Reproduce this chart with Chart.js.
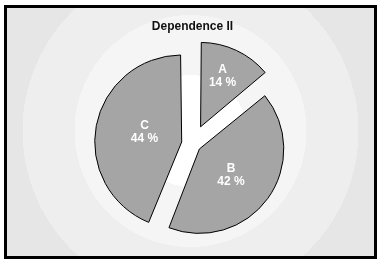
<!DOCTYPE html>
<html>
<head>
<meta charset="utf-8">
<script src="https://cdn.jsdelivr.net/npm/chart.js@4.4.1/dist/chart.umd.min.js"></script>
<style>
  html, body { margin: 0; padding: 0; background: #fff; }
  #wrap { position: relative; width: 379px; height: 262px; }
  #frame {
    position: absolute; left: 4px; top: 5px; width: 367px; height: 248px;
    border: 3px solid #000;
    background: radial-gradient(circle at 183.5px 123px, #fff 0 56px, #f5f5f5 56px 116px, #eeeeee 116px 168px, #e6e6e6 168px);
  }
  canvas { position: absolute; left: 0; top: 0; }
</style>
</head>
<body>
<div id="wrap">
  <div id="frame"></div>
  <canvas id="pie" width="379" height="262"></canvas>
</div>
<script>
const $ = id => document.getElementById(id);

const labels = ['A', 'B', 'C'];
const shares = [14, 42, 44];

// how far each slice is pulled out (chart.js uses a quarter of this)
const pullOut = [76, 34, 44];
const labelNudge = [-4, 3, -3];
const sliceGrey = '#a5a5a5';

const sliceLabels = {
  id: 'sliceLabels',
  afterDatasetsDraw(chart) {
    const ctx = chart.ctx;
    const meta = chart.getDatasetMeta(0);
    ctx.save();
    ctx.font = 'bold 12px "Liberation Sans", Arial, sans-serif';
    ctx.fillStyle = '#fff';
    ctx.textAlign = 'center';
    ctx.textBaseline = 'middle';
    meta.data.forEach((arc, i) => {
      const { x, y, startAngle, endAngle, outerRadius } = arc.getProps(['x', 'y', 'startAngle', 'endAngle', 'outerRadius'], true);
      const mid = (startAngle + endAngle) / 2;
      const theta = endAngle - startAngle;
      const shift = (arc.options.offset || 0) / 4;
      // centroid of the sector
      const d = shift + 4 * outerRadius * Math.sin(theta / 2) / (3 * theta);
      const px = x + Math.cos(mid) * d;
      const py = y + Math.sin(mid) * d + labelNudge[i];
      ctx.fillText(labels[i], px, py - 6.5);
      ctx.fillText(`${shares[i]} %`, px, py + 6.5);
    });
    ctx.restore();
  }
};

new Chart($('pie').getContext('2d'), {
  type: 'pie',
  data: {
    labels,
    datasets: [{
      data: shares,
      backgroundColor: sliceGrey,
      borderColor: '#000',
      borderWidth: 1,
      offset: pullOut,
      radius: 80
    }]
  },
  options: {
    responsive: false,
    animation: false,
    layout: { padding: { top: 19, bottom: 7.4, left: 12, right: 6 } },
    plugins: {
      legend: { display: false },
      tooltip: { enabled: false },
      title: {
        display: true,
        text: 'Dependence II',
        color: '#111',
        font: { family: '"Liberation Sans", Arial, sans-serif', size: 12, weight: 'bold' },
        padding: 0
      }
    }
  },
  plugins: [sliceLabels]
});
</script>
</body>
</html>
